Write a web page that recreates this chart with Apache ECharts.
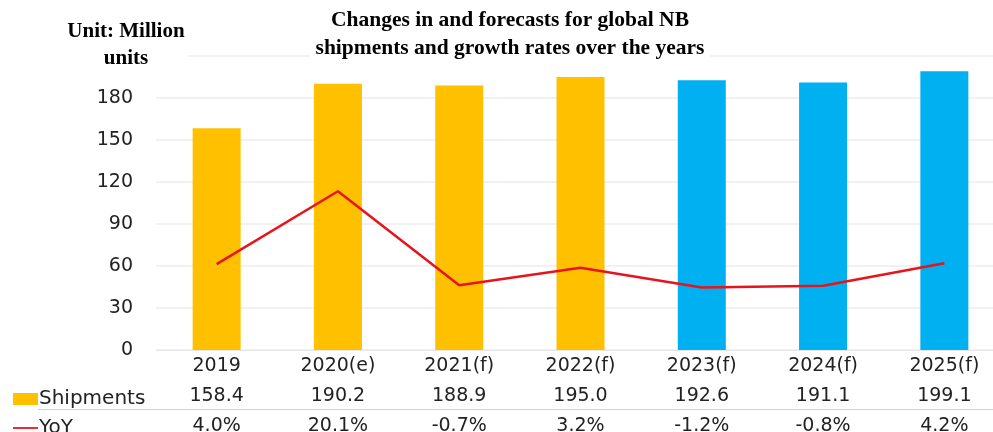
<!DOCTYPE html>
<html>
<head>
<meta charset="utf-8">
<script src="https://cdn.jsdelivr.net/npm/echarts@6/dist/echarts.min.js"></script>
<style>
  html, body { margin: 0; padding: 0; background: #fff; }
  #chart { width: 993px; height: 432px; }
</style>
</head>
<body>
<div id="chart"></div>
<script>
// Global notebook shipments (million units) and year-over-year growth (%)
const years = ['2019', '2020(e)', '2021(f)', '2022(f)', '2023(f)', '2024(f)', '2025(f)'];
const shipments = [158.4, 190.2, 188.9, 195.0, 192.6, 191.1, 199.1];
const yoy = [4.0, 20.1, -0.7, 3.2, -1.2, -0.8, 4.2];
// Years up to 2022 are drawn in amber, later forecasts in blue
const isLateForecast = [false, false, false, false, true, true, true];
const yTicks = [0, 30, 60, 90, 120, 150, 180];

const AMBER = '#FFC000';
const BLUE = '#00B0F0';
const RED = '#E8141C';
const SANS = '"DejaVu Sans", Verdana, sans-serif';
const SERIF = '"Liberation Serif", "Times New Roman", serif';

const chart = echarts.init(document.getElementById('chart'));

chart.setOption({
  animation: false,
  backgroundColor: '#fff',
  title: [
    {
      text: 'Changes in and forecasts for global NB\nshipments and growth rates over the years',
      left: 504, top: 4, textAlign: 'center',
      backgroundColor: '#fff', padding: [2, 6],
      textStyle: { fontFamily: SERIF, fontWeight: 'bold', fontSize: 21.5, lineHeight: 28, color: '#000' }
    },
    {
      text: 'Unit: Million\nunits',
      left: 122, top: 16, textAlign: 'center',
      backgroundColor: '#fff', padding: [2, 4],
      textStyle: { fontFamily: SERIF, fontWeight: 'bold', fontSize: 21, lineHeight: 27, color: '#000' }
    }
  ],
  legend: [
    {
      data: [{ name: 'Shipments', icon: 'rect' }],
      left: 13, top: 389, itemWidth: 25, itemHeight: 12, itemGap: 0, padding: 0,
      textStyle: { fontFamily: SANS, fontSize: 20, color: '#222', padding: [0, 0, 0, -4] }
    },
    {
      data: [{ name: 'YoY', icon: 'path://M0,0 L28,0 L28,2 L0,2 Z' }],
      left: 13, top: 418, itemWidth: 25, itemHeight: 2.2, itemGap: 0, padding: 0,
      textStyle: { fontFamily: SANS, fontSize: 20, color: '#222', padding: [0, 0, 0, -4] }
    }
  ],
  grid: { left: 156, top: 56, width: 849, height: 294, containLabel: false, outerBoundsMode: 'none' },
  xAxis: {
    type: 'category',
    data: years,
    axisLine: { show: true, lineStyle: { color: '#e6e6e6', width: 1 } },
    axisTick: { show: false },
    axisLabel: {
      interval: 0,
      margin: 1,
      fontFamily: SANS, fontSize: 19, color: '#222', lineHeight: 30,
      formatter: (v, i) => `${v}\n${shipments[i].toFixed(1)}\n${yoy[i].toFixed(1)}%`
    }
  },
  yAxis: [
    {
      type: 'value', min: 0, max: 210, interval: 30,
      axisLine: { show: false }, axisTick: { show: false },
      splitLine: { lineStyle: { color: '#ececec', width: 1.5 } },
      axisLabel: {
        margin: 23, fontFamily: SANS, fontSize: 19, color: '#222',
        formatter: v => (yTicks.includes(v) ? String(v) : '')
      }
    },
    {
      type: 'value', min: -15, max: 50, show: false, splitLine: { show: false }
    }
  ],
  graphic: [
    {
      type: 'line', silent: true, z: 10,
      shape: { x1: 38, y1: 409.5, x2: 993, y2: 409.5 },
      style: { stroke: '#d0d0d0', lineWidth: 1 }
    }
  ],
  series: [
    {
      name: 'Shipments', type: 'bar', barWidth: 48,
      color: AMBER,
      data: shipments.map((v, i) => ({ value: v, itemStyle: { color: isLateForecast[i] ? BLUE : AMBER } })),
      z: 2
    },
    {
      name: 'YoY', type: 'line', yAxisIndex: 1,
      data: yoy, symbol: 'none', color: RED,
      lineStyle: { color: RED, width: 2.5 },
      z: 3
    }
  ]
});
</script>
</body>
</html>
